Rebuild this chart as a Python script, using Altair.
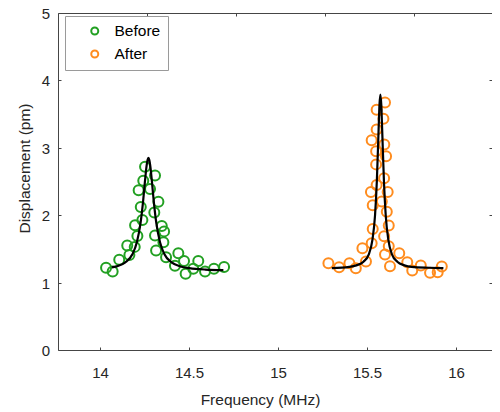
import altair as alt
import pandas as pd

# ---------------- data ----------------
series_names = ["Before", "After"]
series_colors = ["#22a022", "#ff8c1e"]

before_freq = [14.034, 14.071, 14.108, 14.153, 14.165, 14.195, 14.210, 14.197,
               14.238, 14.229, 14.217, 14.243, 14.253, 14.309, 14.281, 14.328,
               14.305, 14.347, 14.360, 14.309, 14.356, 14.315, 14.371, 14.440,
               14.472, 14.421, 14.552, 14.524, 14.481, 14.590, 14.640, 14.697]
before_disp = [1.22, 1.165, 1.34, 1.55, 1.41, 1.53, 1.69, 1.85,
               1.93, 2.12, 2.37, 2.51, 2.72, 2.59, 2.39, 2.20,
               2.04, 1.84, 1.76, 1.70, 1.60, 1.475, 1.375, 1.435,
               1.32, 1.25, 1.32, 1.205, 1.13, 1.165, 1.205, 1.23]

after_freq = [15.283, 15.343, 15.401, 15.437, 15.494, 15.474, 15.526, 15.532,
              15.532, 15.522, 15.554, 15.596, 15.616, 15.583, 15.611, 15.622,
              15.596, 15.622, 15.601, 15.629, 15.681, 15.726, 15.754, 15.802,
              15.854, 15.897, 15.920, 15.551, 15.607, 15.551, 15.597, 15.526,
              15.554, 15.592, 15.554, 15.601]
after_disp = [1.288, 1.229, 1.288, 1.214, 1.313, 1.509, 1.583, 1.795,
              2.149, 2.345, 2.448, 2.547, 2.345, 2.202, 2.05, 1.848,
              1.686, 1.538, 1.416, 1.243, 1.435, 1.302, 1.18, 1.254,
              1.146, 1.155, 1.239, 2.754, 2.876, 2.95, 3.049, 3.112,
              3.27, 3.432, 3.565, 3.673]

fit_before_freq = [14.066, 14.092, 14.142, 14.182, 14.207, 14.227, 14.242, 14.252,
                   14.262, 14.267, 14.272, 14.277, 14.282, 14.292, 14.302, 14.317,
                   14.337, 14.362, 14.402, 14.452, 14.502, 14.592, 14.693]
fit_before_disp = [1.225, 1.24, 1.30, 1.42, 1.60, 1.87, 2.205, 2.49,
                   2.74, 2.82, 2.85, 2.82, 2.74, 2.49, 2.205, 1.87,
                   1.60, 1.42, 1.30, 1.24, 1.215, 1.193, 1.184]

fit_after_freq = [15.302, 15.40, 15.44, 15.48, 15.51, 15.53, 15.545, 15.555,
                  15.565, 15.570, 15.575, 15.580, 15.585, 15.595, 15.605, 15.62,
                  15.64, 15.67, 15.71, 15.75, 15.85, 15.929]
fit_after_disp = [1.214, 1.233, 1.256, 1.31, 1.42, 1.63, 2.0, 2.5,
                  3.27, 3.64, 3.79, 3.64, 3.27, 2.5, 2.0, 1.63,
                  1.42, 1.31, 1.256, 1.233, 1.22, 1.214]

x_ticks = [14, 14.5, 15, 15.5, 16]
y_ticks = [0, 1, 2, 3, 4, 5]
top_ticks = [14, 14.5, 15, 15.5]
right_ticks = [1, 2, 3, 4]

points = pd.DataFrame({
    "freq": before_freq + after_freq,
    "disp": before_disp + after_disp,
    "series": ["Before"] * len(before_freq) + ["After"] * len(after_freq),
})
fits = pd.DataFrame({
    "freq": fit_before_freq + fit_after_freq,
    "disp": fit_before_disp + fit_after_disp,
    "curve": ["Before"] * len(fit_before_freq) + ["After"] * len(fit_after_freq),
})

FONT = "Liberation Sans"
AX = "#454545"
TXT = "#262626"

x_scale = alt.Scale(domain=[13.764, 16.202], nice=False, zero=False)
y_scale = alt.Scale(domain=[0, 5], nice=False, zero=False)

pts = alt.Chart(points).mark_point(
    shape="circle", filled=False, size=100, strokeWidth=2, opacity=1
).encode(
    x=alt.X("freq:Q", scale=x_scale,
            axis=alt.Axis(orient="bottom", values=x_ticks, format="~g",
                          title="Frequency (MHz)", offset=-3, tickSize=3,
                          domain=False, labelPadding=15, titlePadding=12,
                          titleX=202, titleFontSize=15.5)),
    y=alt.Y("disp:Q", scale=y_scale,
            axis=alt.Axis(orient="left", values=y_ticks, format="~g",
                          title="Displacement (pm)", offset=-3, tickSize=3,
                          domain=False, labelPadding=8.5, titlePadding=9,
                          labelOffset=0.5, titleY=155, titleFontSize=15.5)),
    color=alt.Color("series:N",
                    scale=alt.Scale(domain=series_names, range=series_colors),
                    legend=alt.Legend(orient="none", legendX=7, legendY=3,
                                      title=None, strokeColor="#9a9a9a",
                                      fillColor="white", padding=7,
                                      clipHeight=16,
                                      symbolOffset=15, labelOffset=12,
                                      rowPadding=6, symbolSize=49,
                                      symbolStrokeWidth=2, symbolType="circle",
                                      labelFontSize=15.5, labelFont=FONT,
                                      labelColor="#000000",
                                      labelExpr="datum.label + '\u00a0\u00a0'")),
)

line = alt.Chart(fits).mark_line(
    color="black", strokeWidth=2.2, interpolate="monotone"
).encode(
    x=alt.X("freq:Q", scale=x_scale),
    y=alt.Y("disp:Q", scale=y_scale),
    detail="curve:N",
)

frame_axes = alt.Chart(fits).mark_point(opacity=0, clip=True).encode(
    x=alt.X("freq:Q", scale=alt.Scale(domain=[13.5, 15.938], nice=False, zero=False),
            axis=alt.Axis(orient="top", values=top_ticks, labels=False, title=None,
                          offset=-3, tickSize=3, domain=False)),
    y=alt.Y("disp:Q", scale=alt.Scale(domain=[0, 5], nice=False, zero=False),
            axis=alt.Axis(orient="right", values=right_ticks, labels=False, title=None,
                          offset=-3, tickSize=3, domain=False)),
)

chart = alt.layer(alt.layer(pts, line), frame_axes).resolve_scale(
    x="independent", y="independent"
).properties(
    width=434, height=337,
    autosize=alt.AutoSizeParams(type="none"),
    padding={"left": 50, "top": 5, "right": 0, "bottom": 58},
).configure_view(
    stroke=AX, strokeWidth=1
).configure_axis(
    grid=False, labelFont=FONT, labelFontSize=15, labelColor=TXT,
    titleFont=FONT, titleFontSize=15.5, titleFontWeight="normal", titleColor=TXT,
    tickColor=AX, tickWidth=1,
)

chart.save("out.html", embed_options={"renderer": "svg", "actions": False})
